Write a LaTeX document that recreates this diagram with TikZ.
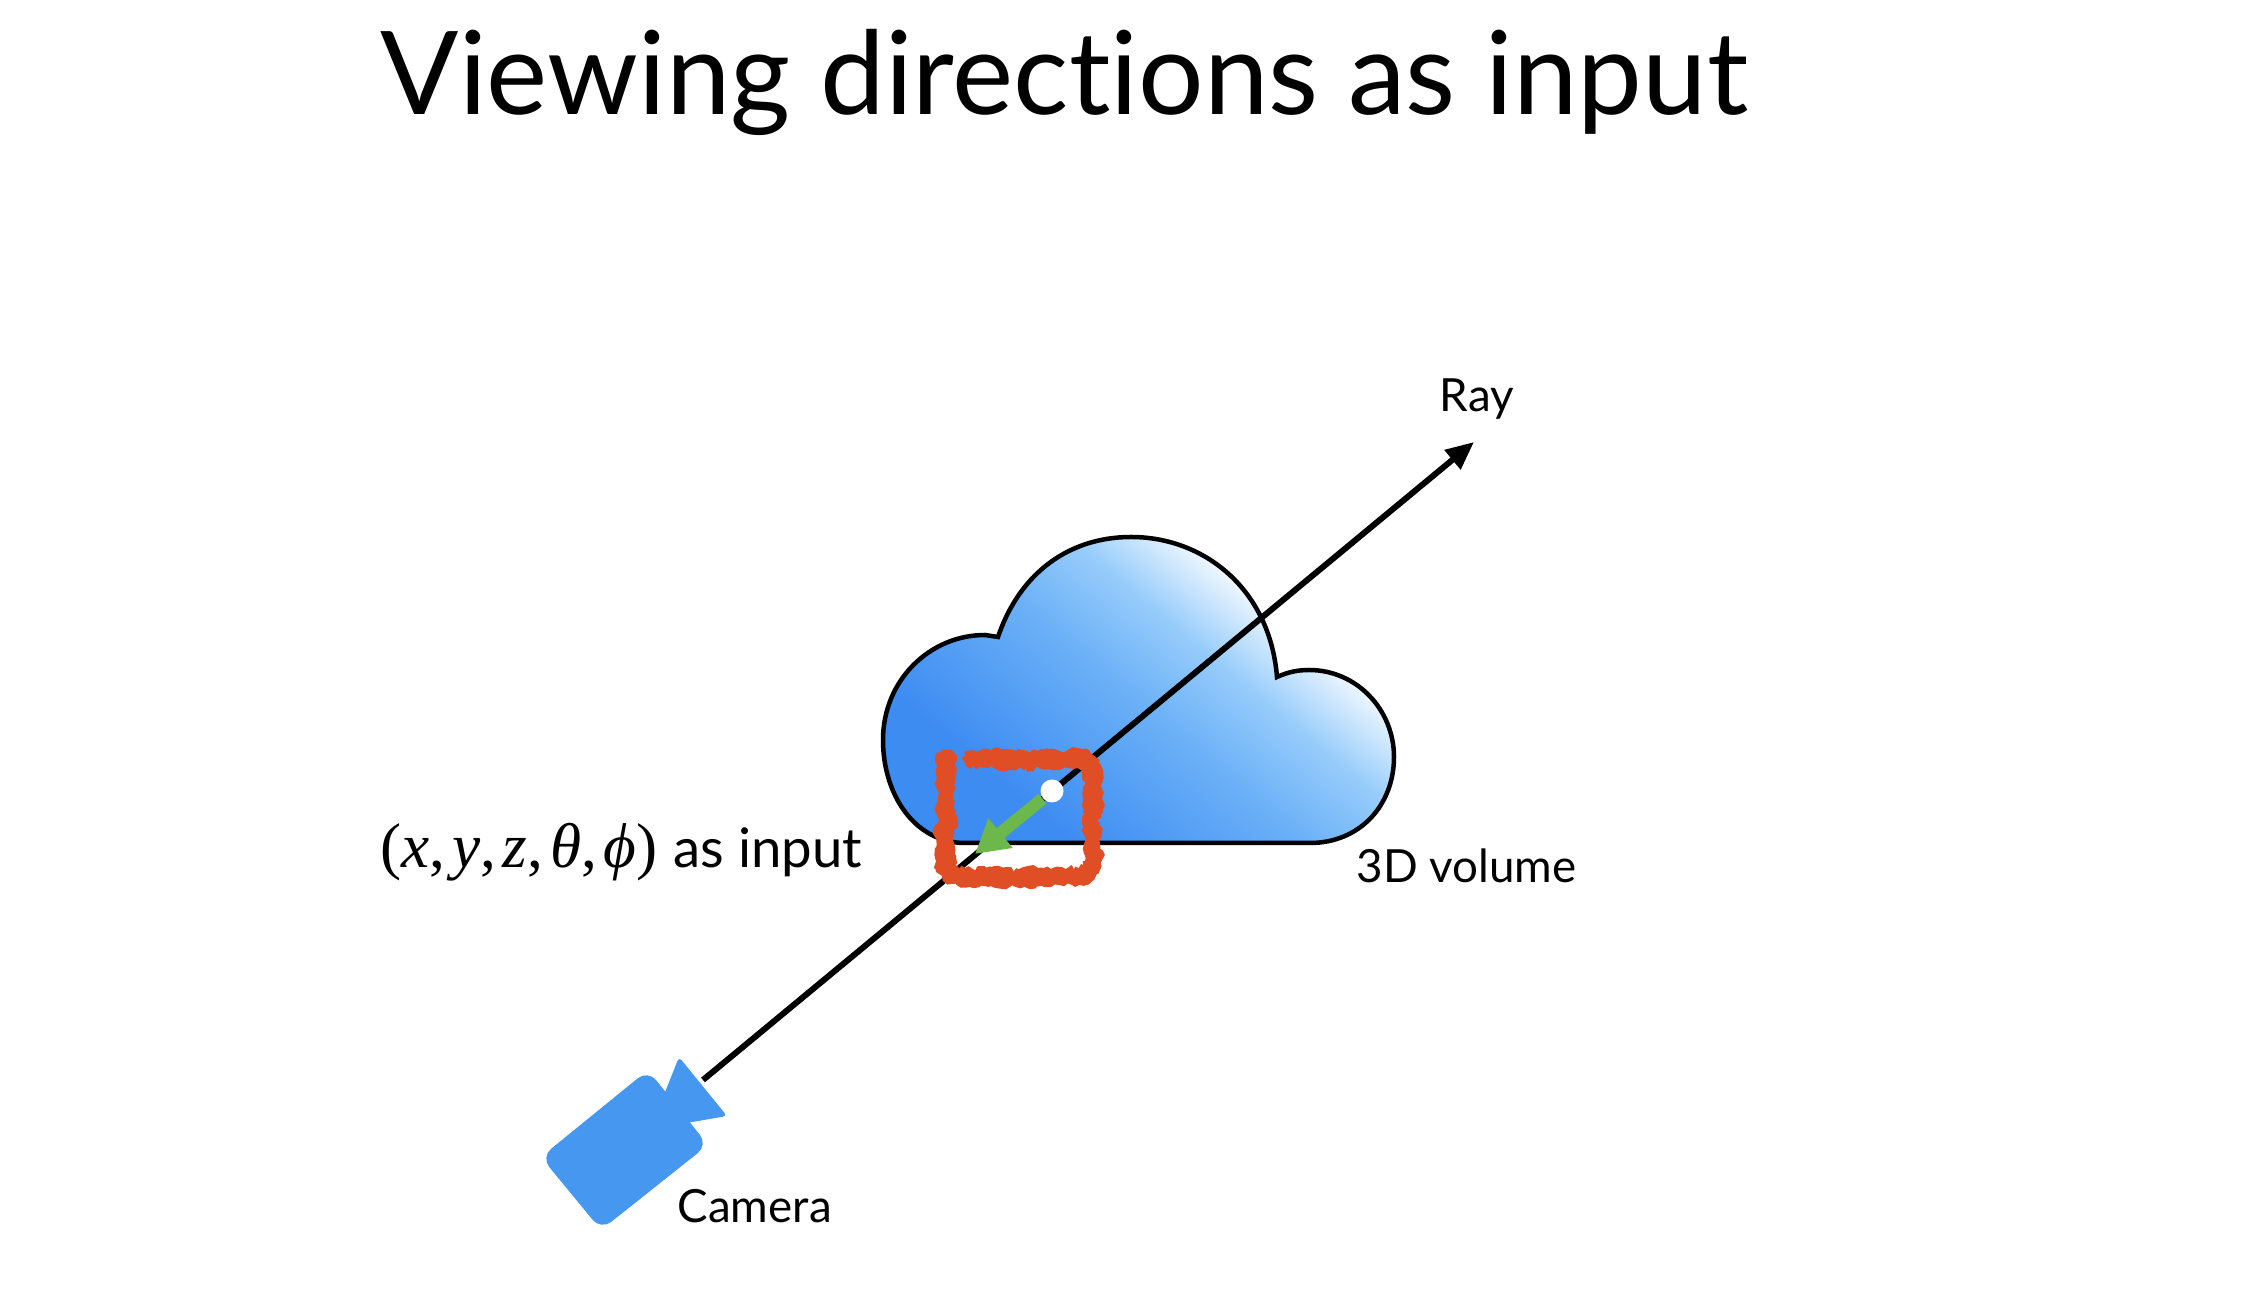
\documentclass[tikz,border=0pt]{standalone}
\usepackage{fontspec}
\setmainfont{Lato}[Ligatures=CommonOff]
\newfontfamily\mathfont{Liberation Serif}
\usetikzlibrary{arrows.meta, decorations.pathmorphing}
\definecolor{cloudblue}{RGB}{61,140,242}
\definecolor{cloudmid}{RGB}{108,177,247}
\definecolor{cloudpale}{RGB}{150,204,251}
\definecolor{camblue}{RGB}{69,151,240}
\definecolor{sketchred}{RGB}{224,78,38}
\definecolor{dirgreen}{RGB}{108,184,74}
\pgfdeclareverticalshading{cloudfade}{100bp}{color(0bp)=(cloudblue); color(30bp)=(cloudblue); color(49bp)=(cloudmid); color(59bp)=(cloudpale); color(70bp)=(white); color(100bp)=(white)}
\pgfmathsetseed{7}
\tikzset{
    caption/.style={inner sep=0pt, text=black, font=\fontsize{13}{16}\selectfont},
    sketch/.style={draw=sketchred, line width=0.12cm, line cap=butt, line join=bevel,
        decorate, decoration={random steps, segment length=0.9pt, amplitude=1pt}}
}

\begin{document}
\begin{tikzpicture}[x=0.01cm, y=-0.01cm]
    \useasboundingbox (0,0) rectangle (2250,1310);

    % Title
    \node[anchor=base west, inner sep=0pt, font=\fontsize{32.9}{40}\selectfont] (title) at (380,115) {Viewing directions as input};

    % Cloud
    \path[draw=black, line width=0.045cm, shading=cloudfade, shading angle=-40]
        (998,637) .. controls (1020,572) and (1070,537) .. (1131,537)
        .. controls (1205,537) and (1270,590) .. (1277,677)
        .. controls (1288,672) and (1298,670) .. (1309,670)
        .. controls (1357,670) and (1394,710) .. (1394,757)
        .. controls (1394,805) and (1360,843) .. (1310,843)
        -- (965,843)
        .. controls (915,843) and (883,795) .. (883,740)
        .. controls (883,680) and (930,635) .. (985,635)
        -- cycle;

    % Ray
    \coordinate (raystart) at (703,1080);
    \coordinate (rayend) at (1474,442);
    \draw[line width=0.06cm, -{Triangle[length=0.28cm, width=0.24cm]}] (raystart) -- (rayend);

    % Viewing direction
    \node[circle, fill=white, minimum size=0.23cm, inner sep=0pt] (point) at (1052,791) {};
    \coordinate (dirtip) at (975,854);
    \draw[dirgreen, line width=0.125cm, -{Triangle[length=0.33cm, width=0.36cm]}] (point) -- (dirtip);

    % Hand drawn box
    \draw[sketch] (942,752) -- (942,868) -- (951,880) -- (1085,880) -- (1096,868) -- (1096,765) -- (1086,755) -- (965,757);
    \draw[sketch] (948,752) -- (949,866) -- (955,874) -- (1081,874) -- (1090,866) -- (1090,767) -- (1082,762) -- (965,763);

    % Camera
    \fill[camblue, rounded corners=0.13cm] (541,1157) -- (648,1070) -- (708,1145) -- (601,1230) -- cycle;
    \fill[camblue, rounded corners=0.04cm] (660,1105) -- (679,1057) -- (727,1116) -- (675,1125) -- cycle;

    % Labels
    \node[caption, anchor=center] (raylabel) at (1477,399) {Ray};
    \node[caption, anchor=base west] (volumelabel) at (1356,883) {3D volume};
    \node[caption, anchor=base west] (cameralabel) at (677,1223) {Camera};
    \node[caption, anchor=base west, font=\fontsize{15.5}{18}\selectfont] (inputlabel) at (380,868) {{\mathfont\fontsize{18}{20}\selectfont (\textit{x},\kern1.9pt\textit{y},\kern1.9pt\textit{z},\kern1.9pt\textit{θ},\kern1.9pt\textit{ϕ})}\kern4.6pt as input};
\end{tikzpicture}
\end{document}
